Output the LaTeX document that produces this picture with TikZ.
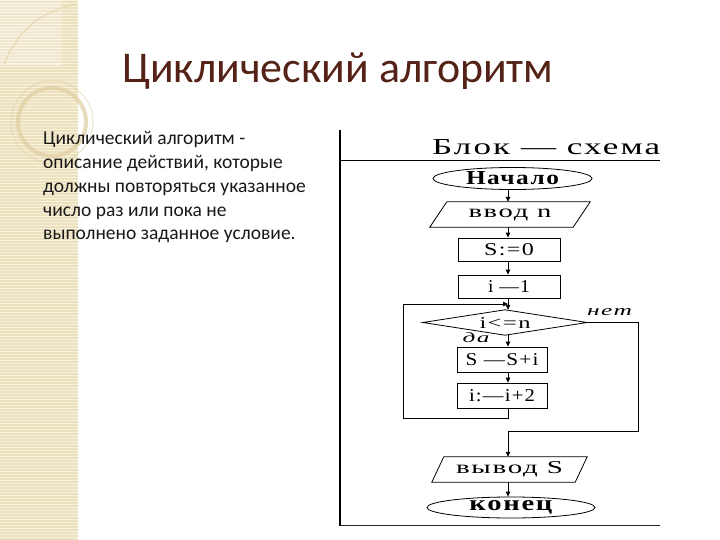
\documentclass[tikz,border=0pt]{standalone}
\usepackage{fontspec}
\usepackage{graphicx}
\setmainfont{Carlito}
\newfontfamily\serf[LetterSpace=6]{Liberation Serif}
\usetikzlibrary{arrows.meta,shapes.geometric}
\definecolor{titlec}{RGB}{84,34,22}
\definecolor{stripbase}{RGB}{236,225,190}
\definecolor{stripline}{RGB}{247,241,222}
\definecolor{ringc}{RGB}{222,206,160}
\newcommand\flt[3]{\resizebox{#1pt}{#2pt}{#3}}
\begin{document}
\begin{tikzpicture}[x=1pt,y=-1pt,
  ln/.style={line width=0.8pt},
  arr/.style={line width=0.8pt,-{Triangle[length=5pt,width=4.5pt]}},
  box/.style={draw,line width=0.8pt,inner sep=0,font=\serf},
  bare/.style={inner sep=0,font=\serf},
  body/.style={anchor=base west,inner sep=0,font=\fontsize{19.5}{23}\selectfont,text=black!90}]
\useasboundingbox (0,0) rectangle (720,540);
\fill[white] (0,0) rectangle (720,540);
% left decorative strip
\fill[stripbase] (0,0) rectangle (78,540);
\foreach \yy in {0,3,...,540} \fill[stripline] (0,\yy) rectangle (78,\yy+1.4);
\fill[white,opacity=0.25] (0,0) rectangle (62,64);
\draw[ringc,line width=1pt,opacity=0.7] (4,64) .. controls (18,30) and (40,12) .. (76,4);
\draw[white,line width=1pt,opacity=0.6] (0,65) -- (62,65);
\draw[ringc,line width=4pt,opacity=0.7] (52,122) circle (34);
\draw[ringc,line width=1pt,opacity=0.5] (52,122) circle (41);
% title
\node[anchor=base west,inner sep=0,text=titlec] (title) at (122,83)
  {\resizebox{431pt}{!}{\fontsize{44}{44}\selectfont Циклический алгоритм}};
% body text
\node[body] (l1) at (43,145) {Циклический алгоритм -};
\node[body] (l2) at (43,169) {описание действий, которые};
\node[body] (l3) at (43,193) {должны повторяться указанное};
\node[body] (l4) at (43,216) {число раз или пока не};
\node[body] (l5) at (43,240) {выполнено заданное условие.};
% frame
\draw[line width=1.3pt] (340,130) -- (340,526);
\draw[ln] (340,160) -- (660,160);
\draw[ln,black!85] (340,525) -- (660,525);
\node[anchor=base west,bare] (head) at (432,155) {\flt{228}{15}{Блок — схема}};
% column for connectors
\coordinate (col) at (508,0);
% nodes
\node[box,ellipse,minimum width=159,minimum height=22] (start) at (512.5,178.5)
  {\flt{93}{13}{\bfseries Начало}};
\node[bare,minimum width=143,minimum height=25] (in) at (510,214.5) {\flt{83}{8.5}{ввод n}};
\draw[ln] ([xshift=8.5pt]in.north west) -- ([xshift=8.5pt]in.north east)
  -- ([xshift=-8.5pt]in.south east) -- ([xshift=-8.5pt]in.south west) -- cycle;
\node[box,minimum width=102,minimum height=23] (s0) at (509,249.5) {\flt{50}{12}{S:=0}};
\node[box,minimum width=102,minimum height=23] (i1) at (509,286.5) {\flt{42}{12}{i —1}};
\node[bare,minimum width=164,minimum height=25] (cond) at (505,322.5) {\flt{51}{11}{i<=n}};
\draw[ln] (cond.west) -- (cond.north) -- (cond.east) -- (cond.south) -- cycle;
\node[box,minimum width=90,minimum height=25] (sum) at (502,359.5) {\flt{73}{12}{S —S+i}};
\node[box,minimum width=90,minimum height=25] (inc) at (502,395.5) {\flt{66}{12}{i:—i+2}};
\node[bare,minimum width=143,minimum height=25] (out) at (509.5,469.5) {\flt{107}{12}{вывод S}};
\draw[ln] ([xshift=6pt]out.north west) -- ([xshift=6pt]out.north east)
  -- ([xshift=-6pt]out.south east) -- ([xshift=-6pt]out.south west) -- cycle;
\node[box,ellipse,minimum width=168,minimum height=21] (end) at (511,507.5)
  {\flt{83}{10}{\bfseries конец}};
% labels
\node[bare] (no) at (609.5,312) {\flt{45}{7}{\itshape нет}};
\node[bare] (yes) at (476,338) {\flt{27}{10}{\itshape да}};
% connectors
\draw[arr] (start.south -| col) -- (in.north -| col);
\draw[arr] (in.south -| col) -- (s0.north -| col);
\draw[arr] (s0.south -| col) -- (i1.north -| col);
\draw[arr] (i1.south -| col) -- (cond.north -| col);
\draw[arr] (cond.south -| col) -- (sum.north -| col);
\draw[arr] (sum.south -| col) -- (inc.north -| col);
\coordinate (lb) at (508,418);
\coordinate (ll) at (403,418);
\coordinate (lt) at (403,304);
\draw[arr] (inc.south -| col) -- (lb) -- (ll) -- (lt) -- (lt -| col);
\coordinate (nr) at (638,431);
\draw[arr] (cond.east) -- (cond.east -| nr) -- (nr) -- (nr -| col) -- (out.north -| col);
\draw[arr] (out.south -| col) -- (end.north -| col);
\end{tikzpicture}
\end{document}
